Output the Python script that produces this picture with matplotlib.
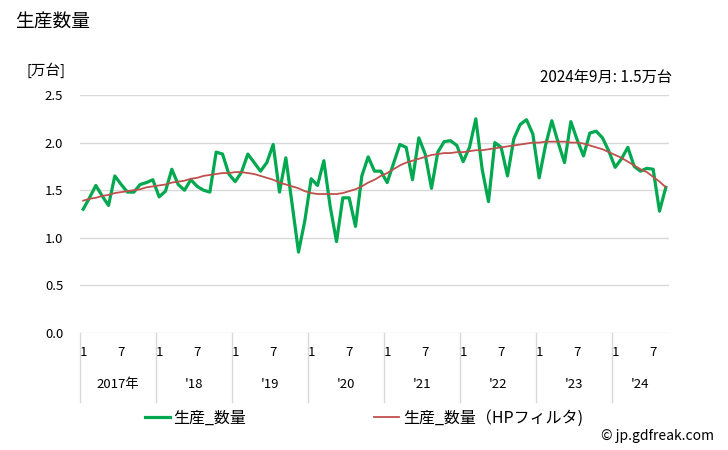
import numpy as np
import matplotlib
matplotlib.use("Agg")
import matplotlib.pyplot as plt
import matplotlib.transforms as mtransforms

plt.rcParams['font.family'] = ['Noto Sans CJK JP', 'DejaVu Sans']

# monthly production, Jan 2017 .. Sep 2024 (10k units)
production = [
    1.30, 1.42, 1.55, 1.44, 1.34, 1.65, 1.56, 1.48, 1.48, 1.56, 1.58, 1.61,
    1.43, 1.49, 1.72, 1.56, 1.50, 1.61, 1.54, 1.50, 1.48, 1.90, 1.88, 1.67,
    1.59, 1.69, 1.88, 1.79, 1.70, 1.79, 1.98, 1.48, 1.84, 1.35, 0.85, 1.18,
    1.62, 1.55, 1.81, 1.33, 0.96, 1.42, 1.42, 1.12, 1.65, 1.85, 1.70, 1.70,
    1.58, 1.78, 1.98, 1.95, 1.61, 2.05, 1.88, 1.52, 1.90, 2.01, 2.02, 1.97,
    1.80, 1.95, 2.25, 1.72, 1.38, 2.00, 1.95, 1.65, 2.04, 2.19, 2.24, 2.09,
    1.63, 1.97, 2.23, 2.00, 1.79, 2.22, 2.03, 1.86, 2.10, 2.12, 2.05, 1.91,
    1.74, 1.83, 1.95, 1.75, 1.70, 1.73, 1.72, 1.28, 1.53,
]
hp_trend = [
    1.39, 1.41, 1.42, 1.44, 1.45, 1.47, 1.48, 1.49, 1.50, 1.51, 1.53, 1.54,
    1.55, 1.56, 1.58, 1.59, 1.60, 1.62, 1.63, 1.65, 1.66, 1.67, 1.68, 1.68,
    1.69, 1.69, 1.68, 1.67, 1.65, 1.63, 1.61, 1.58, 1.56, 1.54, 1.52, 1.49,
    1.47, 1.46, 1.46, 1.46, 1.46, 1.47, 1.49, 1.51, 1.54, 1.58, 1.61, 1.65,
    1.68, 1.72, 1.76, 1.79, 1.81, 1.83, 1.85, 1.87, 1.88, 1.89, 1.89, 1.90,
    1.90, 1.91, 1.92, 1.92, 1.93, 1.94, 1.95, 1.96, 1.97, 1.98, 1.99, 2.00,
    2.00, 2.01, 2.01, 2.01, 2.01, 2.00, 2.00, 1.99, 1.97, 1.95, 1.93, 1.90,
    1.87, 1.84, 1.80, 1.76, 1.72, 1.69, 1.64, 1.59, 1.53,
]
year_labels = ["2017年", "'18", "'19", "'20", "'21", "'22", "'23", "'24"]
month_ticks = [1, 7]
y_ticks = [0.0, 0.5, 1.0, 1.5, 2.0, 2.5]

n = len(production)
x = np.arange(n)

fig = plt.figure(figsize=(7.28, 4.5), dpi=100)
ax = fig.add_axes([80/728, 1 - 333/450, 589/728, 238/450])

ax.plot(x, production, color="#00A84F", lw=2.3, label="生産_数量", zorder=3)
ax.plot(x, hp_trend, color="#C0504D", lw=1.3, label="生産_数量（HPフィルタ)", zorder=4)

ax.set_xlim(-0.5, n - 0.5)
ax.set_ylim(0, 2.5)
ax.set_yticks(y_ticks)
ax.set_yticklabels([f"{v:.1f}" for v in y_ticks], fontsize=9.5)
ax.yaxis.grid(True, color="#D9D9D9", lw=1)
ax.set_axisbelow(True)
for s in ax.spines.values():
    s.set_visible(False)
ax.tick_params(axis="y", length=0, pad=12)

# month ticks (1 and 7 of each year)
pos = [i for i in range(n) if (i % 12) + 1 in month_ticks]
ax.set_xticks(pos)
ax.set_xticklabels([str((i % 12) + 1) for i in pos], fontsize=9.5)
ax.tick_params(axis="x", length=0, pad=9)

trans = mtransforms.blended_transform_factory(ax.transData, ax.transAxes)
for k, lab in enumerate(year_labels):
    start = k * 12 - 0.5
    end = min(start + 12, n - 0.5)
    ax.plot([start, start], [0, -0.29], transform=trans, color="#D9D9D9",
            lw=1, clip_on=False)
    ax.text((start + end) / 2, -0.215, lab, transform=trans, ha="center",
            va="center", fontsize=9.5)

fig.text(15/728, 1 - 22/450, "生産数量", fontsize=13.5, va="center", ha="left")
fig.text(27/728, 1 - 70/450, "[万台]", fontsize=10.5, va="center", ha="left")
fig.text(672/728, 1 - 78/450, "2024年9月: 1.5万台", fontsize=11, va="center", ha="right")

leg = fig.legend(loc="center", bbox_to_anchor=(364/728, 1 - 418/450), ncol=2,
                 frameon=False, fontsize=11.5, handlelength=1.55,
                 columnspacing=8.0, handletextpad=0.25)
fig.text(714/728, 1 - 436/450, "© jp.gdfreak.com", fontsize=10, va="center", ha="right")

fig.savefig("out.png", dpi=100)
